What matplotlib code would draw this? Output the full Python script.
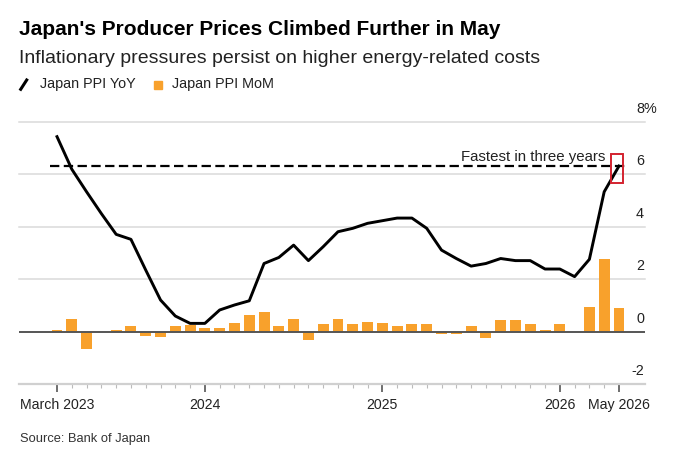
"""Japan producer prices chart: PPI YoY line with MoM bars."""

import matplotlib

matplotlib.use("Agg")
import matplotlib.pyplot as plt  # noqa: E402
from matplotlib.lines import Line2D  # noqa: E402
from matplotlib.patches import Rectangle  # noqa: E402

plt.rcParams["font.family"] = ["Liberation Sans", "DejaVu Sans"]

# Monthly data, March 2023 .. May 2026
ppi_yoy = [
    7.43, 6.19, 5.33, 4.50, 3.71, 3.52, 2.35, 1.21, 0.60, 0.32,
    0.32, 0.83, 1.02, 1.18, 2.60, 2.83, 3.30, 2.71, 3.24, 3.81, 3.94, 4.13,
    4.23, 4.33, 4.33, 3.94, 3.11, 2.79, 2.50, 2.60, 2.79, 2.71, 2.71, 2.39,
    2.39, 2.10, 2.76, 5.33, 6.31,
]
ppi_mom = [
    0.08, 0.48, -0.67, 0.00, 0.08, 0.23, -0.17, -0.19, 0.23, 0.25,
    0.15, 0.15, 0.32, 0.63, 0.74, 0.23, 0.47, -0.32, 0.30, 0.47, 0.30, 0.39,
    0.32, 0.23, 0.30, 0.30, -0.09, -0.09, 0.22, -0.24, 0.46, 0.46, 0.29, 0.06,
    0.29, 0.00, 0.93, 2.76, 0.89,
]
tick_months = [0, 10, 22, 34, 38]
tick_labels = ["March 2023", "2024", "2025", "2026", "May 2026"]
y_levels = [-2, 0, 2, 4, 6, 8]

W, H = 680, 457
ORANGE = "#f8a12c"
TEXT = "#222222"


def fx(px):
    return px / W


def fy(py):
    return 1 - py / H


fig = plt.figure(figsize=(W / 100, H / 100), dpi=100)
ax = fig.add_axes([fx(19), fy(384.3), (645 - 19) / W, (384.3 - 121.7) / H])

months = list(range(len(ppi_yoy)))
ax.set_xlim(-2.57, 39.76)
ax.set_ylim(-2, 8)

# gridlines
for lvl in y_levels:
    if lvl == 0:
        continue
    ax.axhline(lvl, color="#dadada", lw=1.1, zorder=0, clip_on=False)

ax.bar(months, ppi_mom, width=0.74, color=ORANGE, zorder=2)
ax.axhline(0, color="#555555", lw=1.4, zorder=3)
ax.plot(months, ppi_yoy, color="black", lw=2.1, zorder=4,
        solid_joinstyle="round")

# previous high marker
last = ppi_yoy[-1]
ax.plot([-0.47, 38.4], [last, last], color="black", lw=1.6,
        linestyle=(0, (4.2, 2.0)), zorder=4)
ax.text(37.05, last + 0.2, "Fastest in three years", ha="right",
        va="baseline", fontsize=10.8, color=TEXT)
ax.add_patch(Rectangle((months[-1] - 0.54, last - 0.66), 0.79, 1.12,
                       fill=False, edgecolor="#d3232f", lw=1.4, zorder=5))

# right-hand value labels sitting above the gridlines
label_x = 39.69
for lvl in y_levels:
    ax.text(label_x, lvl + 0.34, f"{lvl}", ha="right",
            va="baseline", fontsize=10.4, color=TEXT, clip_on=False)
ax.text(label_x, y_levels[-1] + 0.34, "%", ha="left", va="baseline",
        fontsize=10.4, color=TEXT, clip_on=False)

# x axis
ax.set_yticks([])
for side in ("left", "right", "top"):
    ax.spines[side].set_visible(False)
ax.spines["bottom"].set_color("#d0d0d0")
ax.spines["bottom"].set_linewidth(1.6)
ax.set_xticks(tick_months)
ax.set_xticklabels(tick_labels, fontsize=10.2, color=TEXT)
ax.set_xticks(months, minor=True)
ax.tick_params(axis="x", which="major", length=6, width=1.2,
               color="#555555", pad=4)
ax.tick_params(axis="x", which="minor", length=3, width=0.8,
               color="#bbbbbb")

# title block
fig.text(fx(19), fy(35), "Japan's Producer Prices Climbed Further in May",
         fontsize=15, fontweight="bold", color="black", va="baseline")
fig.text(fx(19), fy(63), "Inflationary pressures persist on higher energy-related costs",
         fontsize=14.0, color=TEXT, va="baseline")

# legend
fig.add_artist(Line2D([fx(20.7), fx(26.7)], [fy(89.3), fy(80)], color="black",
                      lw=2.2, transform=fig.transFigure))
fig.text(fx(40), fy(88.3), "Japan PPI YoY", fontsize=10.4, color=TEXT,
         va="baseline")
fig.add_artist(Rectangle((fx(154), fy(89.3)), 8 / W, 8.3 / H, color=ORANGE,
                         transform=fig.transFigure))
fig.text(fx(171.7), fy(88.3), "Japan PPI MoM", fontsize=10.4, color=TEXT,
         va="baseline")

fig.text(fx(20), fy(441.7), "Source: Bank of Japan", fontsize=9.3,
         color="#333333", va="baseline")

fig.savefig("out.png", dpi=100)
